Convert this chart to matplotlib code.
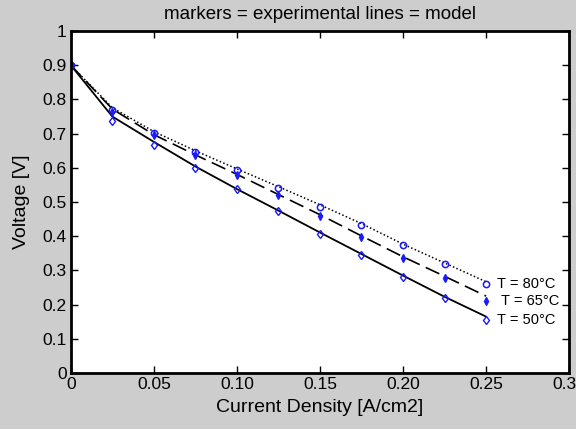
import matplotlib
matplotlib.use("Agg")
import matplotlib.pyplot as plt

plt.rcParams['font.family'] = ['Liberation Sans', 'DejaVu Sans']

# current density grid [A/cm2]
j = [0, 0.025, 0.05, 0.075, 0.1, 0.125, 0.15, 0.175, 0.2, 0.225, 0.25]

# experimental points [V]
exp80 = [0.9, 0.769, 0.703, 0.647, 0.594, 0.540, 0.486, 0.433, 0.374, 0.319, 0.259]
exp65 = [0.9, 0.764, 0.696, 0.637, 0.579, 0.520, 0.459, 0.399, 0.335, 0.277, 0.210]
exp50 = [0.9, 0.737, 0.667, 0.601, 0.538, 0.475, 0.408, 0.345, 0.280, 0.218, 0.155]

# model curves [V]
mod80 = [0.9, 0.776, 0.706, 0.650, 0.597, 0.545, 0.492, 0.437, 0.377, 0.322, 0.267]
mod65 = [0.9, 0.772, 0.697, 0.638, 0.581, 0.522, 0.463, 0.401, 0.340, 0.283, 0.225]
mod50 = [0.9, 0.750, 0.676, 0.604, 0.538, 0.475, 0.411, 0.348, 0.285, 0.223, 0.165]

labels = ['T = 80°C', 'T = 65°C', 'T = 50°C']
xticks = [0, 0.05, 0.10, 0.15, 0.20, 0.25, 0.30]
xticklabels = ['0', '0.05', '0.10', '0.15', '0.20', '0.25', '0.30']
yticks = [0, 0.1, 0.2, 0.3, 0.4, 0.5, 0.6, 0.7, 0.8, 0.9, 1]
yticklabels = ['0', '0.1', '0.2', '0.3', '0.4', '0.5', '0.6', '0.7', '0.8', '0.9', '1']

gray = '#cdcdcd'
blue = '#1a1aff'

fig = plt.figure(figsize=(5.76, 4.29), dpi=100, facecolor=gray)
ax = fig.add_axes([0.123, 0.1305, 0.865, 0.797])

# model lines
ax.plot(j, mod80, color='black', linestyle=(0, (1, 1.5)), linewidth=1.1)
ax.plot(j, mod65, color='black', linestyle=(0, (9, 4)), linewidth=1.2)
ax.plot(j, mod50, color='black', linestyle='-', linewidth=1.3)

# experimental markers
ax.plot(j, exp80, 'o', mfc='none', mec=blue, ms=4.5, mew=1.1)
ax.plot(j, exp65, 'd', mfc=blue, mec=blue, ms=4, mew=1)
ax.plot(j, exp50, 'd', mfc='none', mec=blue, ms=4.5, mew=1)

# curve labels
ax.text(0.2565, exp80[-1], labels[0], fontsize=10.5, va='center', ha='left')
ax.text(0.259, exp65[-1], labels[1], fontsize=10.5, va='center', ha='left')
ax.text(0.2565, exp50[-1], labels[2], fontsize=10.5, va='center', ha='left')

ax.set_xlim(0, 0.30)
ax.set_ylim(0, 1)
ax.set_xticks(xticks)
ax.set_xticklabels(xticklabels)
ax.set_yticks(yticks)
ax.set_yticklabels(yticklabels)
ax.tick_params(direction='in', top=True, right=True, length=5, width=1,
               labelsize=12.5, pad=3)

for s in ax.spines.values():
    s.set_linewidth(2)

ax.set_xlabel('Current Density [A/cm2]', fontsize=14, labelpad=5)
ax.set_ylabel('Voltage [V]', fontsize=14, labelpad=9)
ax.set_title('markers = experimental lines = model', fontsize=13.5, pad=9)

fig.savefig('out.png', dpi=100, facecolor=gray)
